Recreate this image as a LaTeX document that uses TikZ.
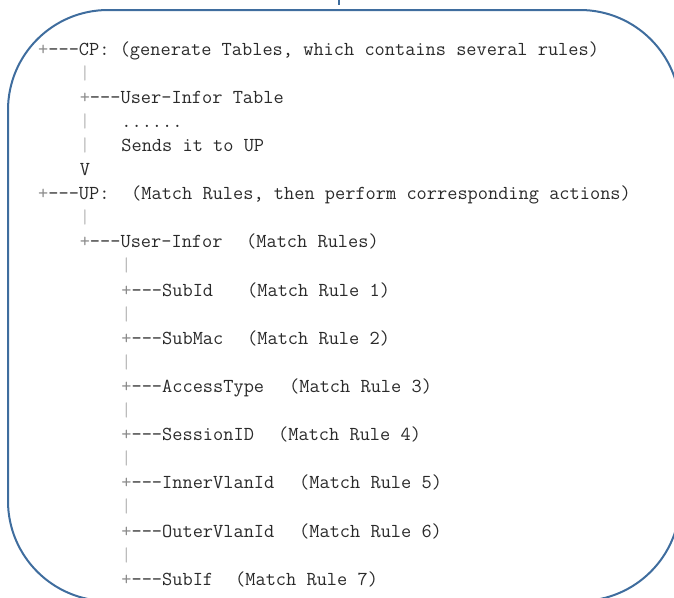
\documentclass[tikz,border=0pt]{standalone}
\usepackage{fontspec}
\definecolor{boxblue}{HTML}{3F6D9E}
\definecolor{txt}{HTML}{2A2A2A}
\definecolor{treec}{HTML}{8A8A8A}
\definecolor{barc}{HTML}{BBBBBB}
\newcommand{\tbar}{\textcolor{barc}{|}}
\newcommand{\tplus}{\textcolor{treec}{+}---}
\begin{document}
\begin{tikzpicture}[x=1pt,y=-1pt,
  t/.style={anchor=base west, inner sep=0pt, font=\fontsize{19.8}{24}\selectfont\ttfamily\addfontfeatures{FakeBold=0.3}, text=txt},
  frame/.style={draw=boxblue, line width=2pt}]
\useasboundingbox (0,0) rectangle (674,597);
\begin{scope}
  \clip (0,0) rectangle (674,597);
  \draw[frame, rounded corners=100pt] (8,10) rectangle (680,601);
  \draw[frame] (339,0) -- (339,5);
\end{scope}
% level x: col0 = 38, col4 = 79.6, col8 = 121.2
\node[t] (cp)   at (38,55)     {\tplus CP: (generate Tables, which contains several rules)};
\node[t] (b1)   at (79.6,79.1) {\tbar};
\node[t] (uit)  at (79.6,103.2){\tplus User-Infor Table};
\node[t] (b3)   at (79.6,127.3){\tbar};
\node[t] (dots) at (121.2,127.3){......};
\node[t] (b4)   at (79.6,151.4){\tbar};
\node[t] (send) at (121.2,151.4){Sends it to UP};
\node[t] (v)    at (79.6,175.5){V};
\node[t] (up)   at (38,199.6)  {\tplus UP:};
\node[t] (upm)  at (131,199.6) {(Match Rules, then perform corresponding actions)};
\node[t] (b7)   at (79.6,223.7){\tbar};
\node[t] (ui)   at (79.6,247.8){\tplus User-Infor};
\node[t] (uim)  at (246,247.8) {(Match Rules)};
\node[t] (b9)   at (121.2,271.9){\tbar};
\node[t] (s1)   at (121.2,296) {\tplus SubId};
\node[t] (m1)   at (247,296)   {(Match Rule 1)};
\node[t] (b11)  at (121.2,320.1){\tbar};
\node[t] (s2)   at (121.2,344.2){\tplus SubMac};
\node[t] (m2)   at (247,344.2) {(Match Rule 2)};
\node[t] (b13)  at (121.2,368.3){\tbar};
\node[t] (s3)   at (121.2,392.4){\tplus AccessType};
\node[t] (m3)   at (289,392.4) {(Match Rule 3)};
\node[t] (b15)  at (121.2,416.5){\tbar};
\node[t] (s4)   at (121.2,440.6){\tplus SessionID};
\node[t] (m4)   at (278,440.6) {(Match Rule 4)};
\node[t] (b17)  at (121.2,464.7){\tbar};
\node[t] (s5)   at (121.2,488.8){\tplus InnerVlanId};
\node[t] (m5)   at (299,488.8) {(Match Rule 5)};
\node[t] (b19)  at (121.2,512.9){\tbar};
\node[t] (s6)   at (121.2,537)  {\tplus OuterVlanId};
\node[t] (m6)   at (299,537)   {(Match Rule 6)};
\node[t] (b21)  at (121.2,561.1){\tbar};
\node[t] (s7)   at (121.2,585.2){\tplus SubIf};
\node[t] (m7)   at (235,585.2) {(Match Rule 7)};
\end{tikzpicture}
\end{document}
